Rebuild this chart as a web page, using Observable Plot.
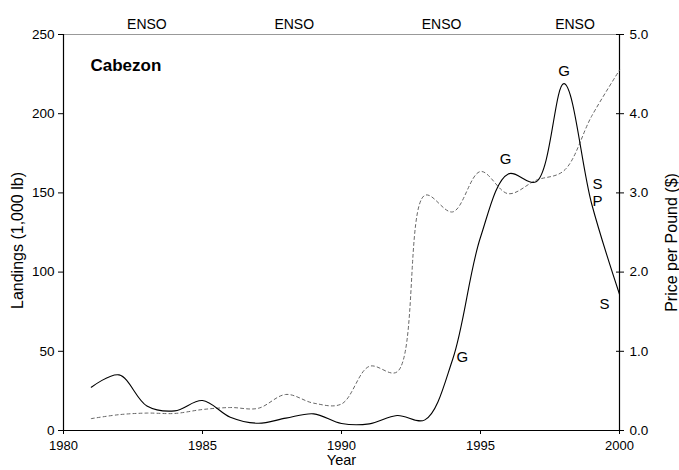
<!DOCTYPE html>
<html>
<head>
<meta charset="utf-8">
<script src="https://cdn.jsdelivr.net/npm/d3@7"></script>
<script src="https://cdn.jsdelivr.net/npm/@observablehq/plot@0.6"></script>
<style>
  html, body { margin: 0; padding: 0; background: white; }
  #chart { width: 679px; height: 470px; }
</style>
</head>
<body>
<div id="chart"></div>
<script>
// ---- Data ----
const years = [1981, 1982, 1983, 1984, 1985, 1986, 1987, 1988, 1989, 1990,
               1991, 1992, 1993, 1994, 1995, 1996, 1997, 1998, 1999, 2000];
const landings = [27.3, 35.1, 15.5, 12.4, 18.9, 8.4, 4.6, 7.8, 10.5, 4.4,
                  4.2, 9.5, 6.7, 45, 122, 162, 157, 219, 143, 86];
const price = [0.15, 0.20, 0.22, 0.215, 0.265, 0.29, 0.28, 0.455, 0.345, 0.335,
               0.81, 0.74, 2.97, 2.76, 3.27, 2.99, 3.16, 3.28, 3.97, 4.55];

const xTicks = [1980, 1985, 1990, 1995, 2000];
const landingTicks = [0, 50, 100, 150, 200, 250];
const priceTicks = [0, 1, 2, 3, 4, 5];
const priceMax = 5;
const landingMax = 250;

const ensoLabels = ["ENSO", "ENSO", "ENSO", "ENSO"];
const ensoYears = [1983.0, 1988.3, 1993.6, 1998.4];

const annLabels = ["G", "G", "G", "S", "P", "S"];
const annYears = [1994.35, 1995.9, 1998.01, 1999.21, 1999.21, 1999.46];
const annValues = [46, 171, 227, 155.5, 144.6, 80];

const title = "Cabezon";
const xTitle = "Year";
const yLeftTitle = "Landings (1,000 lb)";
const yRightTitle = "Price per Pound ($)";

// ---- Build tables ----
const ratio = landingMax / priceMax;
const landRows = years.map((y, i) => ({year: y, value: landings[i]}));
const priceRows = years.map((y, i) => ({year: y, value: price[i] * ratio}));
const ensoRows = ensoYears.map((y, i) => ({year: y, label: ensoLabels[i]}));
const annRows = annYears.map((y, i) => ({year: y, value: annValues[i], label: annLabels[i]}));
const rightTicks = priceTicks.map(p => p * ratio);

const font = "'Liberation Sans', Arial, Helvetica, sans-serif";

const chart = Plot.plot({
  width: 679,
  height: 470,
  marginLeft: 63,
  marginRight: 60,
  marginTop: 34,
  marginBottom: 40,
  style: {fontFamily: font, fontSize: "13px", color: "black", background: "white", overflow: "visible"},
  x: {domain: [1980, 2000]},
  y: {domain: [0, landingMax]},
  marks: [
    // frame
    Plot.ruleY([landingMax], {stroke: "#999", strokeWidth: 1}),
    Plot.ruleY([0], {stroke: "black", strokeWidth: 1.2}),
    Plot.ruleX([1980], {stroke: "black", strokeWidth: 1.2}),
    Plot.ruleX([2000], {stroke: "black", strokeWidth: 1.2}),
    // axes
    Plot.axisX({ticks: xTicks, tickSize: 4, tickPadding: 6, tickFormat: d => String(d), label: null, fontSize: 13}),
    Plot.axisY({anchor: "left", ticks: landingTicks, tickSize: 5, tickPadding: 4, label: null, fontSize: 13.5}),
    Plot.axisY({anchor: "right", ticks: rightTicks, tickSize: 8, dx: -4, fill: "none", label: null}),
    Plot.axisY({anchor: "right", ticks: rightTicks, tickSize: 0, tickPadding: 10,
                tickFormat: d => (d / ratio).toFixed(1), label: null, fontSize: 13.5}),
    // lines
    Plot.line(priceRows, {x: "year", y: "value", curve: "catmull-rom", stroke: "#666",
                          strokeWidth: 1, strokeDasharray: "3,3"}),
    Plot.line(landRows, {x: "year", y: "value", curve: "catmull-rom", stroke: "black", strokeWidth: 1.1}),
    // annotations
    Plot.text(annRows, {x: "year", y: "value", text: "label", fontSize: 15, fill: "black"}),
    Plot.text(ensoRows, {x: "year", text: "label", frameAnchor: "top", dy: -15, fontSize: 14}),
    Plot.text([title], {frameAnchor: "top-left", textAnchor: "start", dx: 27, dy: 24,
                        fontSize: 17, fontWeight: "bold"}),
    Plot.text([xTitle], {frameAnchor: "bottom", dy: 34, fontSize: 14.5}),
    Plot.text([yLeftTitle], {frameAnchor: "left", textAnchor: "middle", rotate: -90, dx: -45.5, dy: 8, fontSize: 16}),
    Plot.text([yRightTitle], {frameAnchor: "right", textAnchor: "middle", rotate: -90, dx: 52, dy: 10, fontSize: 16})
  ]
});
document.getElementById("chart").appendChild(chart);
</script>
</body>
</html>
